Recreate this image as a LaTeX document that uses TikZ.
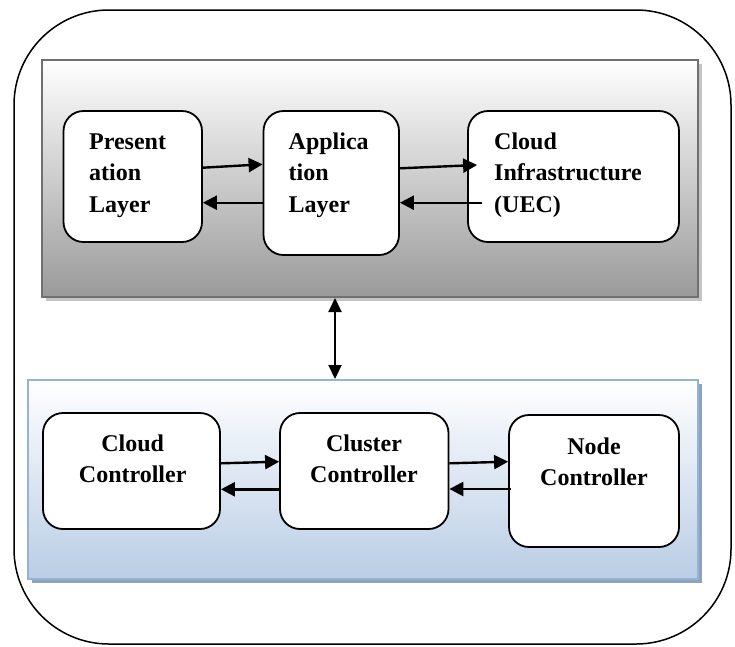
\documentclass[tikz,border=0pt]{standalone}
\usepackage{fontspec}
\setmainfont{Liberation Serif}
\usetikzlibrary{arrows.meta,shadows}
\definecolor{panelgray}{HTML}{9A9A9A}
\definecolor{panelborder}{HTML}{707070}
\definecolor{panelshadow}{HTML}{C4C4C4}
\definecolor{bluebottom}{HTML}{B9CDE5}
\definecolor{blueborder}{HTML}{95B3D7}
\definecolor{blueshadow}{HTML}{8FA2BC}
\tikzset{
  outerbox/.style={draw=black, line width=1.5pt, rounded corners=95pt},
  graypanel/.style={draw=panelborder, line width=2pt, top color=white, bottom color=panelgray,
    general shadow={fill=panelshadow, shadow xshift=4pt, shadow yshift=-4pt},
    inner sep=0pt, rectangle},
  bluepanel/.style={draw=blueborder, line width=2pt, top color=white, bottom color=bluebottom,
    general shadow={fill=blueshadow, shadow xshift=4pt, shadow yshift=-4pt},
    inner sep=0pt, rectangle},
  layerbox/.style={draw=black, fill=white, line width=1.8pt, rounded corners=20pt, inner sep=0pt, rectangle},
  txt/.style={font=\fontsize{24}{31.5}\selectfont\bfseries, inner sep=0pt},
  arr/.style={line width=2.4pt, -{Triangle[length=14pt,width=14pt]}},
  dbl/.style={line width=2pt, {Triangle[length=14pt,width=13pt]}-{Triangle[length=14pt,width=13pt]}}
}
\begin{document}
\begin{tikzpicture}[x=1pt,y=-1pt]
\useasboundingbox (0,0) rectangle (735,646);
\draw[outerbox] (14,10) rectangle (731,644);

% panels
\node[graypanel, minimum width=656pt, minimum height=237pt] (top) at (370,178.5) {};
\node[bluepanel, minimum width=670pt, minimum height=199pt] (bot) at (363,479.5) {};

% top row boxes
\node[layerbox, minimum width=138.5pt, minimum height=131pt] (pres) at (132.75,176.5) {};
\node[layerbox, minimum width=135.5pt, minimum height=144pt] (app) at (331.25,183) {};
\node[layerbox, minimum width=211pt, minimum height=131pt] (cloud) at (573.5,176.5) {};

\node[txt, anchor=base west, align=left] (prestxt) at (89,212) {Present\\ation\\Layer};
\node[txt, anchor=base west, align=left] (apptxt) at (288.5,212) {Applica\\tion\\Layer};
\node[txt, anchor=base west, align=left] (cloudtxt) at (494,212) {Cloud\\Infrastructure\\(UEC)};

% bottom row boxes
\node[layerbox, minimum width=177pt, minimum height=116pt] (cc) at (131.5,471) {};
\node[layerbox, minimum width=168.5pt, minimum height=116pt] (cl) at (364.25,471) {};
\node[layerbox, minimum width=170pt, minimum height=132pt] (nc) at (594,481) {};

\node[txt, anchor=base, align=center] (cctxt) at (132.7,482.5) {Cloud\\Controller};
\node[txt, anchor=base, align=center] (cltxt) at (364,482.7) {Cluster\\Controller};
\node[txt, anchor=base, align=center] (nctxt) at (594,485.5) {Node\\Controller};

% top arrows
\draw[arr] ([yshift=8.8pt]pres.east) -- ([yshift=18.7pt]app.west);
\draw[arr] ([yshift=-19.7pt]app.west) -- ([yshift=-26.2pt]pres.east);
\draw[arr] ([yshift=14.7pt]app.east) -- ([xshift=10pt,yshift=11.5pt]cloud.west);
\draw[arr] ([xshift=15pt,yshift=-26.2pt]cloud.west) -- ([yshift=-19.7pt]app.east);

% vertical arrow
\draw[dbl] ([xshift=-35pt]top.south) -- ([xshift=-28pt]bot.north);

% bottom arrows
\draw[arr] ([yshift=7.7pt]cc.east) -- ([yshift=9.3pt]cl.west);
\draw[arr] ([yshift=-18.3pt]cl.west) -- ([yshift=-18.3pt]cc.east);
\draw[arr] ([yshift=7.7pt]cl.east) -- ([yshift=19.3pt]nc.west);
\draw[arr] ([xshift=2.5pt,yshift=-8pt]nc.west) -- ([yshift=-18pt]cl.east);
\end{tikzpicture}
\end{document}
